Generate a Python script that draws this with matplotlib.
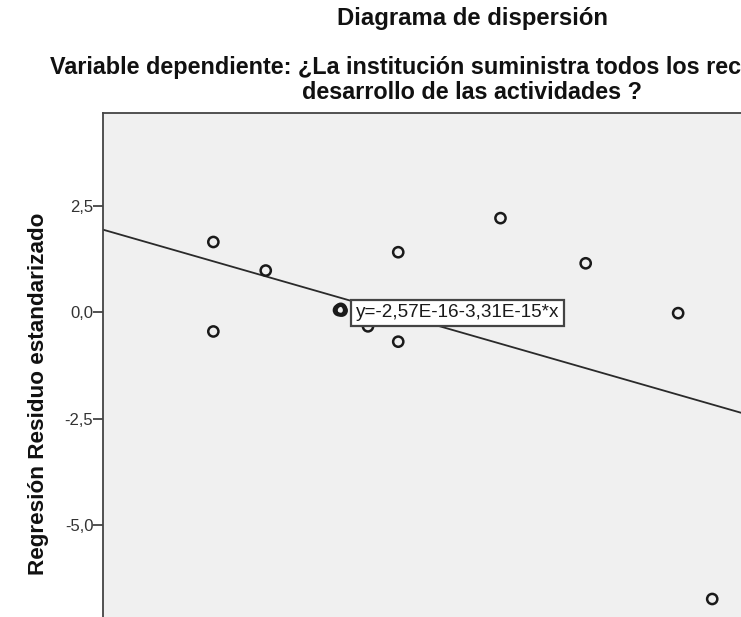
import numpy as np
import matplotlib.pyplot as plt

plt.rcParams['font.family'] = ['Liberation Sans', 'DejaVu Sans']

# predicted (x) and standardized residual (y) values
pred = [-2.97, -2.97, -1.74, -0.02, 0.02, 0.04, 0.66, 1.37, 1.37, 3.77, 5.77, 7.94, 8.74]
resid = [1.65, -0.45, 0.98, 0.05, 0.08, 0.04, -0.33, 1.41, -0.69, 2.21, 1.15, -0.02, -6.73]

# fitted line shown on the chart
fit_a = 0.344
fit_b = -0.287
fit_label = 'y=-2,57E-16-3,31E-15*x'

y_ticks = [2.5, 0.0, -2.5, -5.0]
y_tick_labels = ['2,5', '0,0', '-2,5', '-5,0']

title = 'Diagrama de dispersión'
sub1 = 'Variable dependiente: ¿La institución suministra todos los recursos necesarios para el'
sub2 = 'desarrollo de las actividades ?'

fig = plt.figure(figsize=(7.41, 6.17), dpi=100)
ax = fig.add_axes([0.139, -0.102, 0.9406, 0.919])
ax.set_facecolor('#f0f0f0')

ax.set_xlim(-5.56, 10.8)
ax.set_ylim(-8.63, 4.68)

xs = np.array(ax.get_xlim())
ax.plot(xs, fit_a + fit_b * xs, color='#2a2a2a', linewidth=1.3, zorder=2)

ax.scatter(pred, resid, s=54, facecolors='none', edgecolors='#1a1a1a',
           linewidths=1.8, zorder=3)

ax.text(0.37, -0.01, fit_label, fontsize=13.6, va='center', ha='left', zorder=4,
        color='#1a1a1a',
        bbox=dict(boxstyle='square,pad=0.24', facecolor='white',
                  edgecolor='#444444', linewidth=1.6))

ax.set_yticks(y_ticks)
ax.set_yticklabels(y_tick_labels, fontsize=12, color='#333333')
ax.set_xticks([])
ax.tick_params(axis='y', direction='out', length=7, width=1.2,
               color='#333333', pad=0)
for s in ax.spines.values():
    s.set_color('#444444')
    s.set_linewidth(1.3)

fig.text(0.0513, 0.362, 'Regresión Residuo estandarizado', fontsize=16.2,
         fontweight='bold', rotation=90, ha='center', va='center',
         color='#111111')

fig.text(0.637, 0.9595, title, fontsize=17.2, fontweight='bold',
         ha='center', va='baseline', color='#111111')
fig.text(0.0675, 0.880, sub1, fontsize=16.8, fontweight='bold',
         ha='left', va='baseline', color='#111111')
fig.text(0.637, 0.8395, sub2, fontsize=16.8, fontweight='bold',
         ha='center', va='baseline', color='#111111')

fig.savefig('out.png', dpi=100)
